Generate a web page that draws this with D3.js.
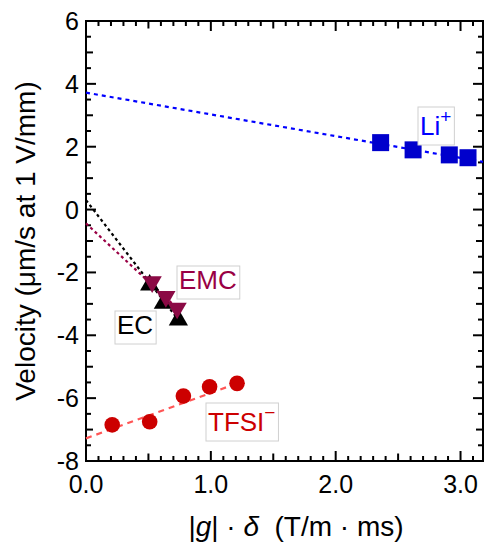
<!DOCTYPE html>
<html>
<head>
<meta charset="utf-8">
<script src="https://cdn.jsdelivr.net/npm/d3@7"></script>
<style>
  body { margin: 0; background: #fff; }
  svg { font-family: "Liberation Sans", Arial, sans-serif; }
</style>
</head>
<body>
<svg id="chart" width="485" height="548"></svg>
<script>
// data
const liX = [2.36, 2.62, 2.91, 3.06];
const liY = [2.13, 1.90, 1.74, 1.65];
const emcX = [0.53, 0.64, 0.73];
const emcY = [-2.30, -2.77, -3.14];
const ecX = [0.51, 0.62, 0.74];
const ecY = [-2.40, -2.98, -3.51];
const tfsiX = [0.21, 0.51, 0.78, 0.99, 1.21];
const tfsiY = [-6.85, -6.75, -5.93, -5.64, -5.53];

// linear fits: [x start, x end], [y start, y end]
const liFitX = [0, 3.18], liFitY = [3.72, 1.52];
const ecFitX = [0, 0.75], ecFitY = [0.30, -3.56];
const emcFitX = [0, 0.73], emcFitY = [-0.44, -3.14];
const tfsiFitX = [0, 1.21], tfsiFitY = [-7.28, -5.53];

const xTickLabels = [0, 1, 2, 3];
const yTickLabels = [6, 4, 2, 0, -2, -4, -6, -8];

const margin = {top: 21, right: 2, bottom: 87, left: 86};
const width = 485 - margin.left - margin.right;
const height = 548 - margin.top - margin.bottom;

const svg = d3.select("#chart");
const g = svg.append("g").attr("transform", `translate(${margin.left},${margin.top})`);

const x = d3.scaleLinear().domain([0, 3.18]).range([0, width]);
const y = d3.scaleLinear().domain([-8, 6]).range([height, 0]);

//ticks (inward, on all four sides)
const tickStroke = 2;
const xMinor = d3.range(0, 3.18, 0.1).map(v => +v.toFixed(1));
xMinor.forEach(v => {
  let len = Math.abs(v - Math.round(v)) < 1e-6 ? 10 : (Math.abs(v * 2 - Math.round(v * 2)) < 1e-6 ? 7.5 : 5);
  if (v === 0) return;
  g.append("line").attr("x1", x(v)).attr("x2", x(v)).attr("y1", height).attr("y2", height - len)
    .attr("stroke", "#000").attr("stroke-width", tickStroke);
  g.append("line").attr("x1", x(v)).attr("x2", x(v)).attr("y1", 0).attr("y2", len)
    .attr("stroke", "#000").attr("stroke-width", tickStroke);
});
const yMinor = d3.range(-8, 6.01, 0.5);
yMinor.forEach(v => {
  let len = v % 2 === 0 ? 10 : (Number.isInteger(v) ? 7 : 5);
  g.append("line").attr("x1", 0).attr("x2", len).attr("y1", y(v)).attr("y2", y(v))
    .attr("stroke", "#000").attr("stroke-width", tickStroke);
  g.append("line").attr("x1", width).attr("x2", width - len).attr("y1", y(v)).attr("y2", y(v))
    .attr("stroke", "#000").attr("stroke-width", tickStroke);
});

// frame
g.append("rect").attr("x", 0).attr("y", 0).attr("width", width).attr("height", height)
  .attr("fill", "none").attr("stroke", "#000").attr("stroke-width", 2);

// tick labels
g.selectAll(".xlab").data(xTickLabels).join("text")
  .attr("class", "xlab")
  .attr("x", d => x(d)).attr("y", height + 32)
  .attr("text-anchor", "middle").attr("font-size", 25)
  .text(d => d3.format(".1f")(d));

g.selectAll(".ylab").data(yTickLabels).join("text")
  .attr("class", "ylab")
  .attr("x", -7).attr("y", d => y(d)).attr("dy", "0.36em")
  .attr("text-anchor", "end").attr("font-size", 25)
  .text(d => d);

// axis titles
svg.append("text")
  .attr("transform", `translate(35,${margin.top + height / 2}) rotate(-90)`)
  .attr("text-anchor", "middle").attr("font-size", 28)
  .text("Velocity (\u03BCm/s at 1 V/mm)");

const xt = svg.append("text")
  .attr("x", 296).attr("y", 536)
  .attr("text-anchor", "middle").attr("font-size", 28);
xt.append("tspan").text("|");
xt.append("tspan").attr("font-style", "italic").text("g");
xt.append("tspan").text("| \u00B7 ");
xt.append("tspan").attr("font-style", "italic").text("\u03B4");
xt.append("tspan").text("\u00A0\u00A0(T/m \u00B7 ms)");

// fit lines
const line = d3.line().x(d => x(d[0])).y(d => y(d[1]));
const fits = [
  {xs: liFitX, ys: liFitY, color: "#0000ff", dash: "4,4"},
  {xs: emcFitX, ys: emcFitY, color: "#990044", dash: "3,3"},
  {xs: ecFitX, ys: ecFitY, color: "#000000", dash: "3,3"},
  {xs: tfsiFitX, ys: tfsiFitY, color: "#ff5555", dash: "6,5"}
];
fits.forEach(f => {
  g.append("path").datum(d3.zip(f.xs, f.ys))
    .attr("d", line).attr("fill", "none")
    .attr("stroke", f.color).attr("stroke-width", 2.2)
    .attr("stroke-dasharray", f.dash);
});

// markers
g.selectAll(".li").data(d3.zip(liX, liY)).join("rect")
  .attr("x", d => x(d[0]) - 8.5).attr("y", d => y(d[1]) - 8.5)
  .attr("width", 17).attr("height", 17)
  .attr("fill", "#0000cc");

const tri = d3.symbol().type(d3.symbolTriangle).size(160);
g.selectAll(".ec").data(d3.zip(ecX, ecY)).join("path")
  .attr("d", tri)
  .attr("transform", d => `translate(${x(d[0])},${y(d[1])})`)
  .attr("fill", "#000");
g.selectAll(".emc").data(d3.zip(emcX, emcY)).join("path")
  .attr("d", tri)
  .attr("transform", d => `translate(${x(d[0])},${y(d[1])}) rotate(180)`)
  .attr("fill", "#8b0a45");

g.selectAll(".tfsi").data(d3.zip(tfsiX, tfsiY)).join("circle")
  .attr("cx", d => x(d[0])).attr("cy", d => y(d[1])).attr("r", 7.8)
  .attr("fill", "#cc0000");

// labels in light boxes
function boxLabel(px, py, main, sup, color) {
  const grp = svg.append("g");
  const t = grp.append("text").attr("x", px).attr("y", py)
    .attr("font-size", 26).attr("fill", color);
  t.append("tspan").text(main);
  if (sup) t.append("tspan").attr("font-size", 19).attr("dy", -12).text(sup);
  const bb = t.node().getBBox();
  grp.insert("rect", "text")
    .attr("x", bb.x - 2).attr("y", bb.y + 1)
    .attr("width", bb.width + 5).attr("height", bb.height + 3)
    .attr("fill", "#fff").attr("stroke", "#d0d0d0").attr("stroke-width", 1);
}
boxLabel(420, 135, "Li", "+", "#0000ff");
boxLabel(179, 289, "EMC", null, "#990044");
boxLabel(117, 334, "EC", null, "#000");
boxLabel(208, 431, "TFSI", "\u2212", "#cc0000");
</script>
</body>
</html>
